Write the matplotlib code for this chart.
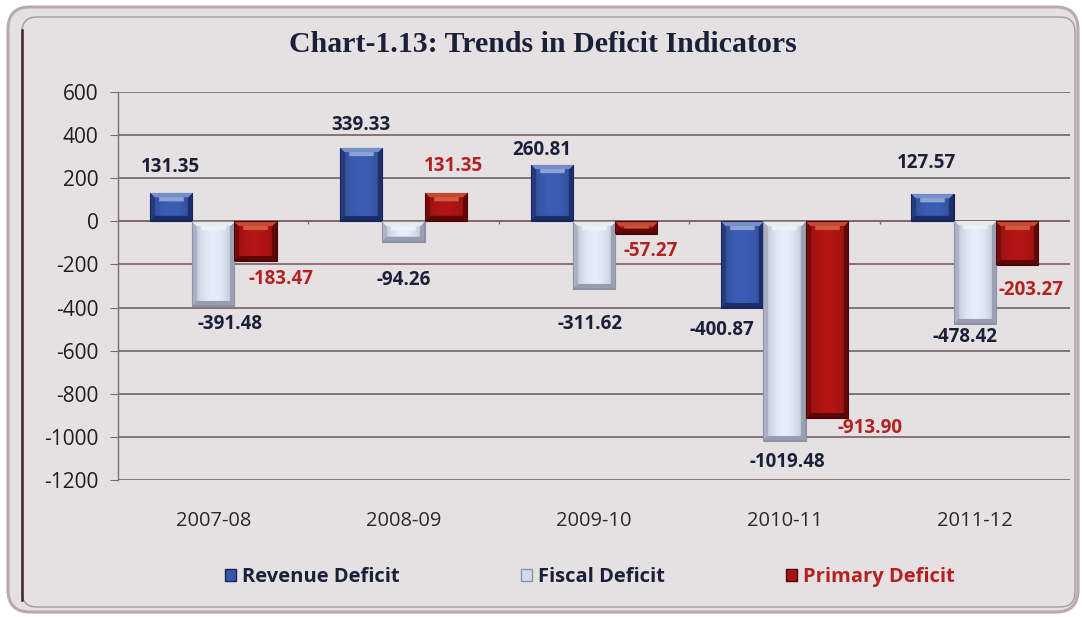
import numpy as np
import matplotlib
matplotlib.use("Agg")
import matplotlib.pyplot as plt
from matplotlib.patches import FancyBboxPatch, Patch
from matplotlib.colors import to_rgb

# ---- data -------------------------------------------------------------
years = ["2007-08", "2008-09", "2009-10", "2010-11", "2011-12"]
revenue_deficit = [131.35, 339.33, 260.81, -400.87, 127.57]
fiscal_deficit = [-391.48, -94.26, -311.62, -1019.48, -478.42]
primary_deficit = [-183.47, 131.35, -57.27, -913.90, -203.27]
series_names = ["Revenue Deficit", "Fiscal Deficit", "Primary Deficit"]
y_ticks = [-1200, -1000, -800, -600, -400, -200, 0, 200, 400, 600]

# ---- styling ----------------------------------------------------------
BG = "#e5e1e2"
GRID = "#806a6c"
NAVY = "#1c1f3a"
RED_TXT = "#b52121"
bar_styles = [
    # base, dark edge, highlight
    ("#3656a6", "#18265e", "#c8d6f5"),
    ("#d3dae8", "#8d93a6", "#ffffff"),
    ("#a51313", "#520505", "#f08a5a"),
]
label_colors = [NAVY, NAVY, RED_TXT]

# label offsets in pixels (dx, dy) for each series / year
label_offsets = [
    [(0, 26), (0, 23), (-10, 15), (-20, -22), (-6, 31)],
    [(17, -18), (0, -38), (-4, -35), (3, -21), (-10, -13)],
    [(26, -18), (8, 27), (14, -17), (43, -10), (14, -25)],
]

plt.rcParams["font.family"] = ["Open Sans", "DejaVu Sans"]

W, H, DPI = 1082, 617, 100
fig = plt.figure(figsize=(W / DPI, H / DPI), dpi=DPI, facecolor="white")

# rounded chart frame
outer = FancyBboxPatch((0.08, 0.05), 10.70, 6.05,
                       boxstyle="round,pad=0,rounding_size=0.22",
                       transform=fig.dpi_scale_trans, facecolor=BG,
                       edgecolor="#b9a9b0", linewidth=2.2, zorder=0)
inner = FancyBboxPatch((0.22, 0.10), 10.53, 5.90,
                       boxstyle="round,pad=0,rounding_size=0.15",
                       transform=fig.dpi_scale_trans, facecolor="none",
                       edgecolor="#a89a9e", linewidth=1.0, zorder=0)
fig.patches.extend([outer, inner])
fig.add_artist(plt.Line2D([22 / W, 22 / W], [1 - 600 / H, 1 - 30 / H],
                          transform=fig.transFigure, color="#3a2424",
                          linewidth=1.8, zorder=1))

ax = fig.add_axes([118 / W, 1 - 480 / H, (1070 - 118) / W, (480 - 92) / H])
ax.set_zorder(3)
ax.set_facecolor("none")
ax.set_xlim(-0.5, len(years) - 0.5)
ax.set_ylim(y_ticks[0], y_ticks[-1])

# horizontal gridlines
ax.set_yticks(y_ticks)
ax.yaxis.grid(True, color=GRID, linewidth=1.3)
ax.set_axisbelow(True)
for s in ["top", "right", "bottom"]:
    ax.spines[s].set_visible(False)
ax.spines["left"].set_color("#7a7070")
ax.spines["left"].set_linewidth(1.0)
ax.tick_params(axis="y", length=6, color=GRID, labelsize=15,
               labelcolor="#1e1e1e", pad=8)
ax.set_yticklabels([str(v) for v in y_ticks])

ax.set_xticks(range(len(years)))
ax.set_xticklabels(years, fontsize=14.5, color="#2a2a2a")
ax.tick_params(axis="x", length=0, pad=22)

# small category separators on the zero line
ax.axhline(0, color=GRID, linewidth=1.4, zorder=1)
ax.vlines(np.arange(len(years) - 1) + 0.5, -12, 0, color=GRID, linewidth=1.0)

bar_w = 0.222
x = np.arange(len(years))
series = [revenue_deficit, fiscal_deficit, primary_deficit]


def bevel_image(w_px, h_px, base, dark, light, bev=5):
    base, dark, light = map(lambda c: np.array(to_rgb(c)), (base, dark, light))
    w_px, h_px = max(int(round(w_px)), 2), max(int(round(h_px)), 2)
    xx, yy = np.meshgrid(np.arange(w_px) + 0.5, np.arange(h_px) + 0.5)
    dl, dr = xx, w_px - xx
    dt, db = yy, h_px - yy
    img = np.empty((h_px, w_px, 3))
    # face with a soft horizontal shading
    u = xx / w_px
    shade = 0.85 + 0.25 * np.sin(np.pi * u)
    img[:] = np.clip(base[None, None, :] * shade[..., None], 0, 1)
    img = img * 0.9 + base * 0.1
    dmin = np.minimum(np.minimum(dl, dr), np.minimum(dt, db))
    edge = dmin < bev
    top = edge & (dt == dmin)
    bottom = edge & (db == dmin) & ~top
    left = edge & (dl == dmin) & ~top & ~bottom
    right = edge & ~top & ~bottom & ~left
    img[top] = 0.45 * light + 0.55 * base
    img[left] = 0.55 * dark + 0.45 * base
    img[right] = 0.8 * dark + 0.2 * base
    img[bottom] = 0.85 * dark + 0.15 * base
    # bright streak near the top
    streak = (~edge) & (dt < bev + 4) & (dl > bev + 4) & (dr > bev + 4)
    img[streak] = 0.6 * light + 0.4 * base
    # outer dark rim
    rim = dmin < 1.2
    img[rim] = dark
    return img


fig.canvas.draw()
px_per_unit_x = ax.transData.transform((1, 0))[0] - ax.transData.transform((0, 0))[0]
px_per_unit_y = ax.transData.transform((0, 1))[1] - ax.transData.transform((0, 0))[1]

for k, vals in enumerate(series):
    base, dark, light = bar_styles[k]
    xs = x + (k - 1) * bar_w
    bars = ax.bar(xs, vals, width=bar_w, color=base, edgecolor=dark,
                  linewidth=0.8, zorder=3)
    for b, v in zip(bars, vals):
        x0 = b.get_x()
        w = b.get_width()
        lo, hi = min(0, v), max(0, v)
        img = bevel_image(w * px_per_unit_x, (hi - lo) * px_per_unit_y,
                          base, dark, light)
        im = ax.imshow(img, extent=(x0, x0 + w, lo, hi), origin="upper",
                       aspect="auto", zorder=4, interpolation="bilinear")
        im.set_clip_path(b)
    for j, (xc, v) in enumerate(zip(xs, vals)):
        dx, dy = label_offsets[k][j]
        ax.annotate(f"{v:.2f}", (xc, v), xytext=(dx, dy),
                    textcoords="offset pixels", ha="center", va="center",
                    fontsize=13.5, fontweight="bold", color=label_colors[k],
                    zorder=6)

ax.set_xlim(-0.5, len(years) - 0.5)
ax.set_ylim(y_ticks[0], y_ticks[-1])

fig.text(543 / W, 1 - 45 / H, "Chart-1.13: Trends in Deficit Indicators",
         ha="center", va="center", fontsize=21.5, fontweight="bold",
         family="Liberation Serif", color=NAVY)

handles = [Patch(facecolor=bar_styles[i][0], edgecolor=bar_styles[i][1])
           for i in range(3)]
leg = fig.legend(handles, series_names, loc="center",
                 bbox_to_anchor=(590 / W, 1 - 577 / H), ncol=3, frameon=False,
                 handlelength=0.55, handleheight=0.55, handletextpad=0.3,
                 columnspacing=6.0, prop={"size": 14.5, "weight": "bold"})
for t, c in zip(leg.get_texts(), label_colors):
    t.set_color(c)

fig.savefig("out.png", dpi=DPI, facecolor="white")
